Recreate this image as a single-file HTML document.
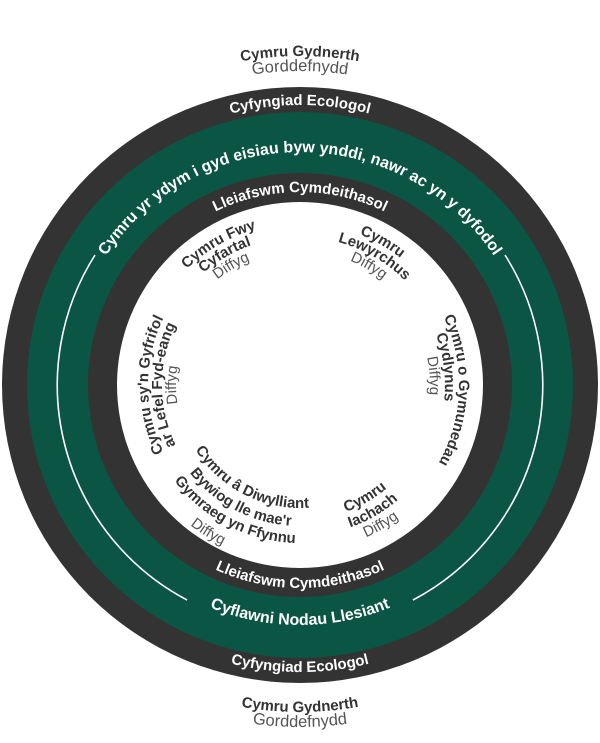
<!DOCTYPE html>
<html><head><meta charset="utf-8"><style>
html,body{margin:0;padding:0;background:#fff}
svg{display:block}
.r{font-family:"Liberation Sans",Arial,sans-serif;font-weight:bold;fill:#fff;font-size:15px}
.b{font-family:"Liberation Sans",Arial,sans-serif;font-weight:bold;fill:#333;font-size:15px}
.d{font-family:"Liberation Sans",Arial,sans-serif;fill:#555;font-size:15px}
</style></head><body>
<svg width="600" height="743" viewBox="0 0 600 743" xmlns="http://www.w3.org/2000/svg">
<defs>
<path id="t329" d="M -29 385 A 329 329 0 0 1 629 385"/>
<path id="t314" d="M -14 385 A 314 314 0 0 1 614 385"/>
<path id="t280" d="M 20 385 A 280 280 0 0 1 580 385"/>
<path id="t233" d="M 67 385 A 233 233 0 0 1 533 385"/>
<path id="t193" d="M 107 385 A 193 193 0 0 1 493 385"/>
<path id="t162" d="M 138 385 A 162 162 0 0 1 462 385"/>
<path id="t148" d="M 152 385 A 148 148 0 0 1 448 385"/>
<path id="t134" d="M 166 385 A 134 134 0 0 1 434 385"/>
<path id="t159" d="M 141 385 A 159 159 0 0 1 459 385"/>
<path id="t145" d="M 155 385 A 145 145 0 0 1 445 385"/>
<path id="t130" d="M 170 385 A 130 130 0 0 1 430 385"/>
<path id="t152" d="M 148 385 A 152 152 0 0 1 452 385"/>
<path id="t138" d="M 162 385 A 138 138 0 0 1 438 385"/>
<path id="t124" d="M 176 385 A 124 124 0 0 1 424 385"/>
<path id="b203" d="M 97 385 A 203 203 0 0 0 503 385"/>
<path id="b240" d="M 60 385 A 240 240 0 0 0 540 385"/>
<path id="b287" d="M 13 385 A 287 287 0 0 0 587 385"/>
<path id="b327" d="M -27 385 A 327 327 0 0 0 627 385"/>
<path id="b342" d="M -42 385 A 342 342 0 0 0 642 385"/>
<path id="b123" d="M 177 385 A 123 123 0 0 0 423 385"/>
<path id="b141" d="M 159 385 A 141 141 0 0 0 441 385"/>
<path id="b158" d="M 142 385 A 158 158 0 0 0 458 385"/>
<path id="b178" d="M 122 385 A 178 178 0 0 0 478 385"/>
<path id="b135" d="M 165 385 A 135 135 0 0 0 435 385"/>
<path id="b151" d="M 149 385 A 151 151 0 0 0 451 385"/>
<path id="b166" d="M 134 385 A 166 166 0 0 0 466 385"/>
</defs>
<circle cx="300" cy="385" r="298" fill="#333333"/>
<circle cx="300" cy="385" r="273" fill="#0b5545"/>
<circle cx="300" cy="385" r="212" fill="#333333"/>
<circle cx="300" cy="385" r="183" fill="#ffffff"/>
<path d="M 187 600 A 243 243 0 0 1 95 255" fill="none" stroke="#fff" stroke-width="1.6"/>
<path d="M 505 255 A 243 243 0 0 1 413 600" fill="none" stroke="#fff" stroke-width="1.6"/>

<text class="b"><textPath href="#t329" startOffset="50%" text-anchor="middle">Cymru Gydnerth</textPath></text>
<text class="d" style="font-size:16.5px"><textPath href="#t314" startOffset="50%" text-anchor="middle">Gorddefnydd</textPath></text>
<text class="b"><textPath href="#b327" startOffset="50%" text-anchor="middle">Cymru Gydnerth</textPath></text>
<text class="d" style="font-size:16.5px"><textPath href="#b342" startOffset="50%" text-anchor="middle">Gorddefnydd</textPath></text>

<text class="r"><textPath href="#t280" startOffset="50%" text-anchor="middle">Cyfyngiad Ecologol</textPath></text>
<text class="r" style="font-size:16px"><textPath href="#t233" startOffset="50%" text-anchor="middle">Cymru yr ydym i gyd eisiau byw ynddi, nawr ac yn y dyfodol</textPath></text>
<text class="r"><textPath href="#t193" startOffset="50%" text-anchor="middle">Lleiafswm Cymdeithasol</textPath></text>
<text class="r"><textPath href="#b203" startOffset="50%" text-anchor="middle">Lleiafswm Cymdeithasol</textPath></text>
<text class="r" style="font-size:16px"><textPath href="#b240" startOffset="50%" text-anchor="middle">Cyflawni Nodau Llesiant</textPath></text>
<text class="r"><textPath href="#b287" startOffset="50%" text-anchor="middle">Cyfyngiad Ecologol</textPath></text>

<g transform="rotate(-30 300 385)">
<text class="b"><textPath href="#t162" startOffset="50%" text-anchor="middle">Cymru Fwy</textPath></text>
<text class="b"><textPath href="#t148" startOffset="50%" text-anchor="middle">Cyfartal</textPath></text>
<text class="d"><textPath href="#t134" startOffset="50%" text-anchor="middle">Diffyg</textPath></text>
</g>
<g transform="rotate(30 300 385)">
<text class="b"><textPath href="#t162" startOffset="50%" text-anchor="middle">Cymru</textPath></text>
<text class="b"><textPath href="#t148" startOffset="50%" text-anchor="middle">Lewyrchus</textPath></text>
<text class="d"><textPath href="#t134" startOffset="50%" text-anchor="middle">Diffyg</textPath></text>
</g>
<g transform="rotate(92 300 385)"><text class="b"><textPath href="#t159" startOffset="50%" text-anchor="middle">Cymru o Gymunedau</textPath></text></g>
<g transform="rotate(83 300 385)"><text class="b"><textPath href="#t145" startOffset="50%" text-anchor="middle">Cydlynus</textPath></text></g>
<g transform="rotate(86 300 385)"><text class="d"><textPath href="#t130" startOffset="50%" text-anchor="middle">Diffyg</textPath></text></g>
<g transform="rotate(-90 300 385)">
<text class="b"><textPath href="#t152" startOffset="50%" text-anchor="middle">Cymru sy'n Gyfrifol</textPath></text>
<text class="b"><textPath href="#t138" startOffset="50%" text-anchor="middle">ar Lefel Fyd-eang</textPath></text>
<text class="d"><textPath href="#t124" startOffset="50%" text-anchor="middle">Diffyg</textPath></text>
</g>
<g transform="rotate(27 300 385)"><text class="b"><textPath href="#b123" startOffset="50%" text-anchor="middle">Cymru â Diwylliant</textPath></text></g>
<g transform="rotate(27.5 300 385)"><text class="b"><textPath href="#b141" startOffset="50%" text-anchor="middle">Bywiog lle mae'r</textPath></text></g>
<g transform="rotate(27.2 300 385)"><text class="b"><textPath href="#b158" startOffset="50%" text-anchor="middle">Gymraeg yn Ffynnu</textPath></text></g>
<g transform="rotate(32 300 385)"><text class="d"><textPath href="#b178" startOffset="50%" text-anchor="middle">Diffyg</textPath></text></g>
<g transform="rotate(-30 300 385)">
<text class="b"><textPath href="#b135" startOffset="50%" text-anchor="middle">Cymru</textPath></text>
<text class="b"><textPath href="#b151" startOffset="50%" text-anchor="middle">Iachach</textPath></text>
<text class="d"><textPath href="#b166" startOffset="50%" text-anchor="middle">Diffyg</textPath></text>
</g>
</svg>
</body></html>
